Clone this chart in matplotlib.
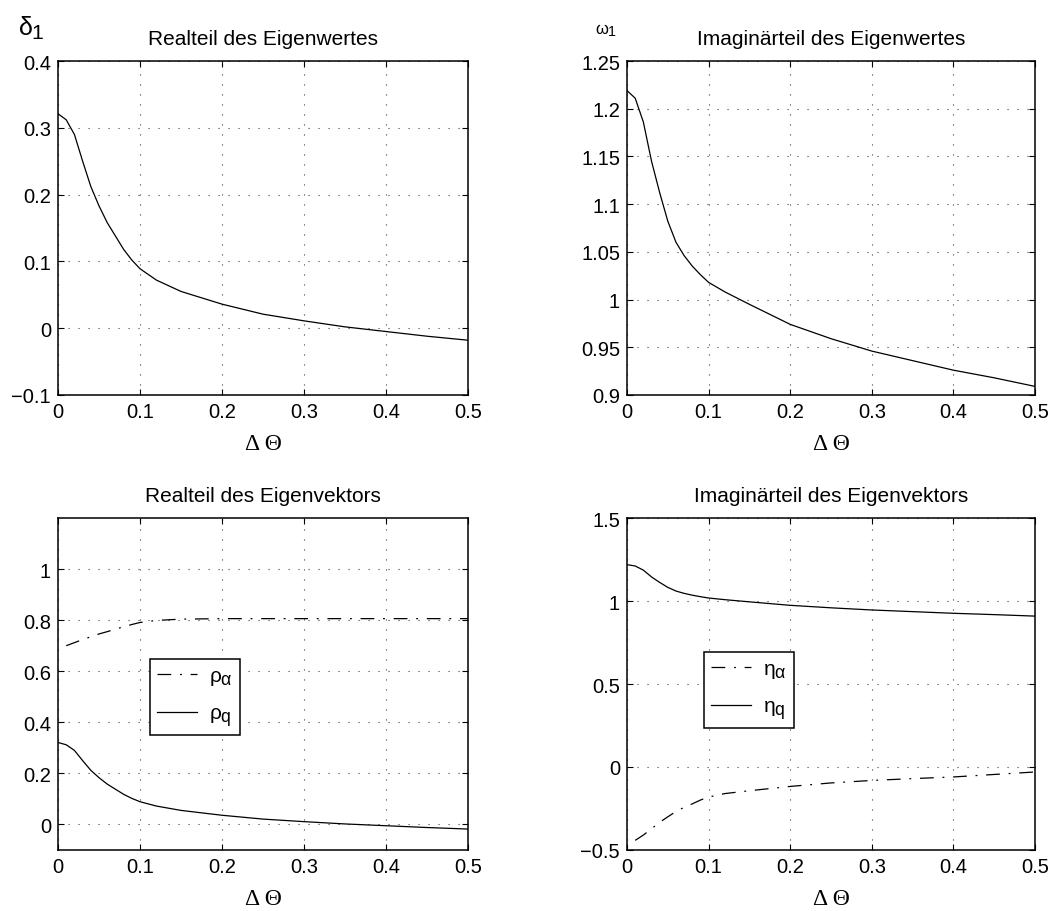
import matplotlib
matplotlib.use("Agg")
import matplotlib.pyplot as plt
import matplotlib._mathtext as mt

# MATLAB draws subscripts almost at full size
mt.SHRINK_FACTOR = 0.85

plt.rcParams['font.family'] = ['Liberation Sans', 'DejaVu Sans']
plt.rcParams['mathtext.fontset'] = 'custom'
plt.rcParams['mathtext.rm'] = 'Liberation Sans'
plt.rcParams['mathtext.it'] = 'Liberation Sans'
plt.rcParams['mathtext.bf'] = 'Liberation Sans'

# Delta Theta values
dtheta = [0, 0.01, 0.02, 0.03, 0.04, 0.05, 0.06, 0.07, 0.08, 0.09, 0.1,
          0.12, 0.15, 0.2, 0.25, 0.3, 0.35, 0.4, 0.45, 0.5]
# real part of eigenvalue (also rho_q)
delta1 = [0.321, 0.312, 0.290, 0.250, 0.212, 0.183, 0.158, 0.138, 0.118, 0.102,
          0.089, 0.072, 0.055, 0.036, 0.021, 0.011, 0.002, -0.005, -0.012, -0.018]
# imaginary part of eigenvalue (also eta_q)
omega1 = [1.219, 1.211, 1.186, 1.145, 1.112, 1.082, 1.060, 1.046, 1.035, 1.026,
          1.018, 1.008, 0.995, 0.974, 0.959, 0.946, 0.936, 0.926, 0.918, 0.909]

# alpha components start at 0.01
dtheta_a = dtheta[1:]
rho_alpha = [0.700, 0.712, 0.724, 0.735, 0.746, 0.755, 0.765, 0.774, 0.783,
             0.791, 0.799, 0.804, 0.806, 0.806, 0.806, 0.806, 0.806, 0.806, 0.806]
eta_alpha = [-0.442, -0.410, -0.372, -0.333, -0.300, -0.268, -0.243, -0.222, -0.199,
             -0.181, -0.160, -0.143, -0.117, -0.096, -0.081, -0.070, -0.060, -0.045, -0.030]

xticks = [0, 0.1, 0.2, 0.3, 0.4, 0.5]
xticklabels = ['0', '0.1', '0.2', '0.3', '0.4', '0.5']

dashdot = (0, (11, 7, 1.5, 7))
lw = 0.9


def style_axes(ax, ylim, yticks, yticklabels, title):
    '''MATLAB-like box, dotted grid, inward ticks'''
    ax.set_xlim(0, 0.5)
    ax.set_ylim(*ylim)
    ax.set_xticks(xticks)
    ax.set_xticklabels(xticklabels)
    ax.set_yticks(yticks)
    ax.set_yticklabels(yticklabels)
    ax.tick_params(direction='in', length=4, width=0.8, top=True, right=True,
                   labelsize=14.5, pad=5)
    ax.grid(True, color='0.25', linestyle=(0, (1, 8)), linewidth=0.8)
    for s in ax.spines.values():
        s.set_linewidth(1.1)
    ax.set_title(title, fontsize=15, pad=12)
    ax.set_xlabel('\u0394 \u0398', fontsize=17, family=['Liberation Serif', 'DejaVu Serif'],
                  labelpad=9)


def add_legend(ax, anchor):
    leg = ax.legend(loc='lower left', bbox_to_anchor=anchor, borderaxespad=0,
                    fontsize=15, fancybox=False, framealpha=1, edgecolor='k',
                    handlelength=1.9, handletextpad=0.6, labelspacing=0.8, borderpad=0.35)
    leg.get_frame().set_linewidth(1.1)


fig = plt.figure(figsize=(10.61, 9.12), dpi=100)

ax1 = fig.add_axes([0.0547, 0.5658, 0.3864, 0.3662])
ax2 = fig.add_axes([0.5910, 0.5658, 0.3845, 0.3662])
ax3 = fig.add_axes([0.0547, 0.0669, 0.3864, 0.3640])
ax4 = fig.add_axes([0.5910, 0.0669, 0.3845, 0.3640])

# top left
ax1.plot(dtheta, delta1, color='k', linewidth=lw)
style_axes(ax1, (-0.1, 0.4), [-0.1, 0, 0.1, 0.2, 0.3, 0.4],
           ['\u22120.1', '0', '0.1', '0.2', '0.3', '0.4'], 'Realteil des Eigenwertes')
ax1.text(-0.065, 1.10, r'$\delta_1$', transform=ax1.transAxes, fontsize=18,
         ha='center', va='center')

# top right
ax2.plot(dtheta, omega1, color='k', linewidth=lw)
style_axes(ax2, (0.9, 1.25), [0.9, 0.95, 1, 1.05, 1.1, 1.15, 1.2, 1.25],
           ['0.9', '0.95', '1', '1.05', '1.1', '1.15', '1.2', '1.25'],
           'Imagin\u00e4rteil des Eigenwertes')
ax2.text(-0.052, 1.095, r'$\omega_1$', transform=ax2.transAxes, fontsize=12,
         ha='center', va='center')

# bottom left
ax3.plot(dtheta_a, rho_alpha, color='k', linewidth=lw, linestyle=dashdot,
         label=r'$\rho_\alpha$')
ax3.plot(dtheta, delta1, color='k', linewidth=lw, label=r'$\rho_q$')
style_axes(ax3, (-0.1, 1.2), [0, 0.2, 0.4, 0.6, 0.8, 1],
           ['0', '0.2', '0.4', '0.6', '0.8', '1'], 'Realteil des Eigenvektors')
add_legend(ax3, (0.224, 0.345))

# bottom right
ax4.plot(dtheta_a, eta_alpha, color='k', linewidth=lw, linestyle=dashdot,
         label=r'$\eta_\alpha$')
ax4.plot(dtheta, omega1, color='k', linewidth=lw, label=r'$\eta_q$')
style_axes(ax4, (-0.5, 1.5), [-0.5, 0, 0.5, 1, 1.5],
           ['\u22120.5', '0', '0.5', '1', '1.5'], 'Imagin\u00e4rteil des Eigenvektors')
add_legend(ax4, (0.188, 0.366))

fig.savefig('out.png', dpi=100)
